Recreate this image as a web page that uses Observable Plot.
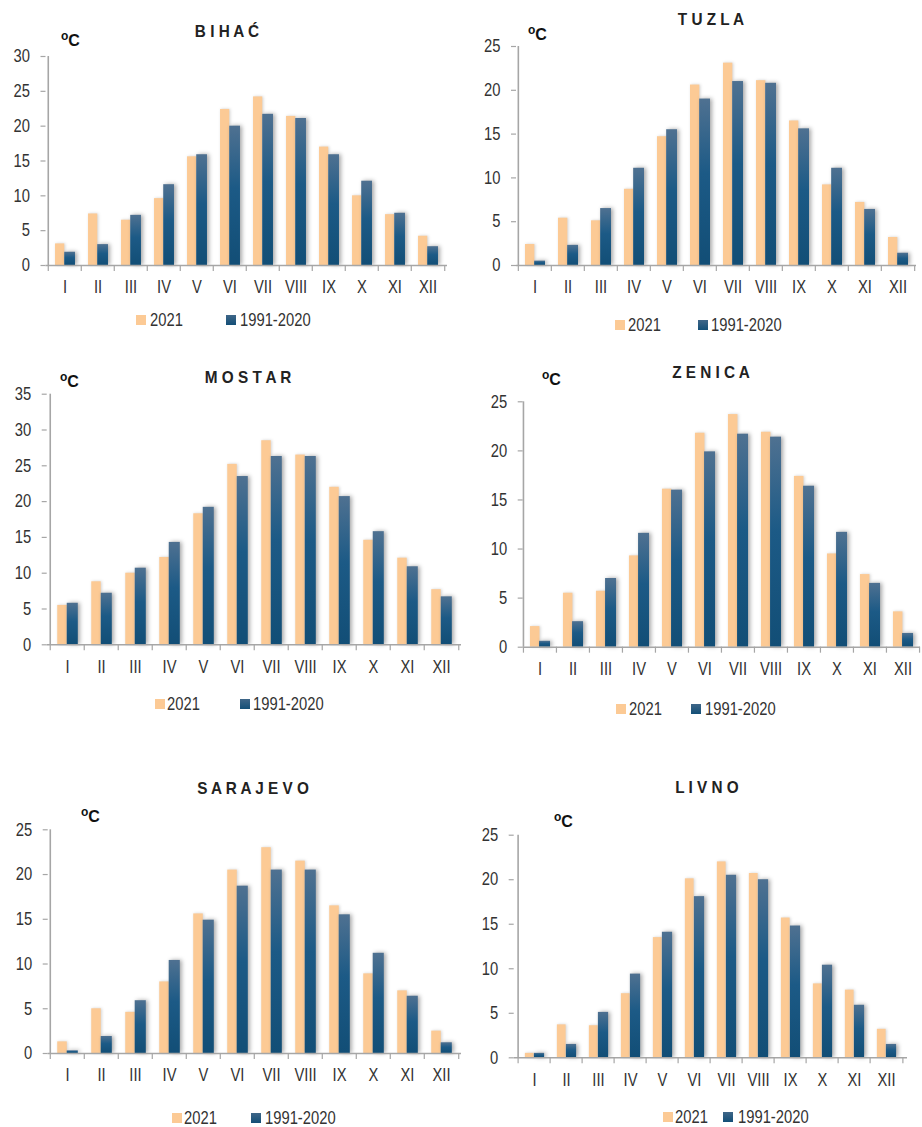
<!DOCTYPE html>
<html>
<head>
<meta charset="utf-8">
<script src="https://cdn.jsdelivr.net/npm/d3@7"></script>
<script src="https://cdn.jsdelivr.net/npm/@observablehq/plot@0.6"></script>
<style>
  html, body { margin: 0; padding: 0; background: #fff; }
  #root { position: relative; width: 922px; height: 1127px; background: #fff; overflow: hidden; }
  .lbl { position: absolute; white-space: nowrap; line-height: 1; }
  .narrow { font-family: "Liberation Sans", Arial, sans-serif; font-size: 18px; color: #333; }
  .title { font-family: "Liberation Sans", Arial, sans-serif; font-weight: bold; font-size: 17px; color: #222; }
  .unit { font-family: "Liberation Sans", Arial, sans-serif; font-weight: bold; font-size: 16px; color: #111; }
  .unit sup { font-size: 12px; position: relative; top: -3px; vertical-align: top; }
  .sw { position: absolute; width: 10px; height: 10px; }
</style>
</head>
<body>
<div id="root"></div>
<script>
// ---- data ----
const months = ["I","II","III","IV","V","VI","VII","VIII","IX","X","XI","XII"];
const seriesNames = ["2021", "1991-2020"];

const bihac2021   = [3.1, 7.4, 6.5, 9.6, 15.6, 22.4, 24.2, 21.4, 17.0, 10.0, 7.3, 4.2];
const bihacNorm   = [1.9, 3.0, 7.2, 11.6, 15.9, 20.0, 21.7, 21.1, 15.9, 12.1, 7.5, 2.7];
const tuzla2021   = [2.4, 5.4, 5.1, 8.7, 14.7, 20.6, 23.1, 21.1, 16.5, 9.2, 7.2, 3.2];
const tuzlaNorm   = [0.5, 2.3, 6.5, 11.1, 15.5, 19.0, 21.0, 20.8, 15.6, 11.1, 6.4, 1.4];
const mostar2021  = [5.5, 8.8, 10.0, 12.2, 18.3, 25.2, 28.5, 26.5, 22.0, 14.6, 12.1, 7.7];
const mostarNorm  = [5.8, 7.2, 10.7, 14.3, 19.2, 23.5, 26.3, 26.3, 20.7, 15.8, 10.9, 6.7];
const zenica2021  = [2.1, 5.5, 5.7, 9.3, 16.1, 21.8, 23.7, 21.9, 17.4, 9.5, 7.4, 3.6];
const zenicaNorm  = [0.6, 2.6, 7.0, 11.6, 16.0, 19.9, 21.7, 21.4, 16.4, 11.7, 6.5, 1.4];
const sarajevo2021 = [1.3, 5.0, 4.6, 8.0, 15.6, 20.5, 23.0, 21.5, 16.5, 8.9, 7.0, 2.5];
const sarajevoNorm = [0.3, 1.9, 5.9, 10.4, 14.9, 18.7, 20.5, 20.5, 15.5, 11.2, 6.4, 1.2];
const livno2021   = [0.5, 3.7, 3.6, 7.2, 13.5, 20.1, 22.0, 20.7, 15.7, 8.3, 7.6, 3.2];
const livnoNorm   = [0.5, 1.5, 5.1, 9.4, 14.1, 18.1, 20.5, 20.0, 14.8, 10.4, 5.9, 1.5];

const stationTitles = ["B I H A Ć", "T U Z L A", "M O S T A R", "Z E N I C A", "S A R A J E V O", "L I V N O"];
const yMaxima = [30, 25, 35, 25, 25, 25];
const yTickStep = 5;

// ---- layout (pixel placement of each panel) ----
const layouts = [
  {axisX: 45.5, xEnd: 447, yTop: 56,    yZero: 265,    title: [227, 30.5], unit: [61, 32],  legend: {y: 320,  sq1: 136, t1: 150, sq2: 226, t2: 240}},
  {axisX: 516,  xEnd: 916, yTop: 46,    yZero: 265,    title: [711, 18.5], unit: [528, 26], legend: {y: 325,  sq1: 615, t1: 628, sq2: 698, t2: 711}},
  {axisX: 46.7, xEnd: 461, yTop: 393.7, yZero: 644.3,  title: [247.5, 377], unit: [60, 373], legend: {y: 704,  sq1: 155, t1: 167, sq2: 240, t2: 253}},
  {axisX: 522.7,xEnd: 920, yTop: 401.3, yZero: 646.7,  title: [711, 371.5], unit: [542, 371], legend: {y: 709, sq1: 616, t1: 629, sq2: 691, t2: 705}},
  {axisX: 47.7, xEnd: 461, yTop: 829.3, yZero: 1053,   title: [252.5, 787.5], unit: [81, 808], legend: {y: 1118, sq1: 172, t1: 184, sq2: 251, t2: 265}},
  {axisX: 513.7,xEnd: 907, yTop: 834.7, yZero: 1057.3, title: [706.5, 786.5], unit: [554, 813], legend: {y: 1117, sq1: 663, t1: 675, sq2: 723, t2: 738}}
];

const values2021 = [bihac2021, tuzla2021, mostar2021, zenica2021, sarajevo2021, livno2021];
const valuesNorm = [bihacNorm, tuzlaNorm, mostarNorm, zenicaNorm, sarajevoNorm, livnoNorm];

const ORANGE = "#fcca95";
const GRAY = "#a6a6a6";
const TEXT = "#333";
const FONT = '"Liberation Sans", Arial, sans-serif';
const NARROW_FACTOR = 0.82;

const root = document.getElementById("root");

function addLabel(html, x, y, cls, anchor, sx) {
  const d = document.createElement("div");
  d.className = "lbl " + cls;
  d.innerHTML = html;
  d.style.left = x + "px";
  d.style.top = y + "px";
  const s = sx ? ` scaleX(${sx})` : "";
  if (anchor === "center") {
    d.style.transform = "translate(-50%, -50%)" + s;
    d.style.transformOrigin = "50% 50%";
  } else {
    d.style.transform = "translate(0, -50%)" + s;
    d.style.transformOrigin = "0 50%";
  }
  root.appendChild(d);
  return d;
}

function gradientDefs(id) {
  return () => {
    const ns = "http://www.w3.org/2000/svg";
    const defs = document.createElementNS(ns, "defs");
    const g = document.createElementNS(ns, "linearGradient");
    g.setAttribute("id", id);
    g.setAttribute("x1", "0"); g.setAttribute("y1", "0");
    g.setAttribute("x2", "0"); g.setAttribute("y2", "1");
    [["0%", "#4f7191"], ["45%", "#1c5a86"], ["100%", "#124e76"]].forEach(([o, c]) => {
      const s = document.createElementNS(ns, "stop");
      s.setAttribute("offset", o);
      s.setAttribute("stop-color", c);
      g.appendChild(s);
    });
    defs.appendChild(g);
    return defs;
  };
}

layouts.forEach((L, k) => {
  const ymax = yMaxima[k];
  const left = Math.floor(L.axisX - 50);
  const top = Math.floor(L.yTop - 12);
  const width = Math.ceil(L.xEnd + 2 - left);
  const height = Math.ceil(L.yZero + 42 - top);
  const mL = L.axisX - left, mT = L.yTop - top;
  const mR = width - (L.xEnd - left), mB = height - (L.yZero - top);
  const bw = (L.xEnd - L.axisX) / months.length;
  const rows = months.map((m, i) => ({month: m, a: values2021[k][i], b: valuesNorm[k][i]}));
  const gid = "grad" + k;

  const chart = Plot.plot({
    width, height,
    marginLeft: mL, marginTop: mT, marginRight: mR, marginBottom: mB,
    style: {fontFamily: FONT, fontSize: "18px", color: TEXT, background: "transparent", overflow: "visible"},
    x: {type: "band", domain: months, padding: 0, label: null, axis: null},
    y: {domain: [0, ymax], label: null, axis: null},
    marks: [
      gradientDefs(gid),
      Plot.barY(rows, {x: "month", y: "a", fill: ORANGE,
        insetLeft: bw * 0.21, insetRight: bw * 0.5,
        imageFilter: "drop-shadow(1px 0px 1.5px rgba(0,0,0,0.18))"}),
      Plot.barY(rows, {x: "month", y: "b", fill: `url(#${gid})`,
        insetLeft: bw * 0.485, insetRight: bw * 0.18,
        imageFilter: "drop-shadow(2.5px 0px 2px rgba(0,0,0,0.35))"}),
      Plot.ruleY([0], {stroke: GRAY, strokeWidth: 1.6}),
      Plot.ruleX([months[0]], {x: d => d, dx: -bw / 2, stroke: GRAY, strokeWidth: 1.6}),
      Plot.axisY({ticks: d3.range(0, ymax + 1, yTickStep), tickSize: 5, tickPadding: 11,
        stroke: GRAY, strokeWidth: 1.2, fill: TEXT, fontSize: 18, label: null}),
      Plot.axisX({tickSize: 0, tickPadding: 15, fill: TEXT, fontSize: 18, label: null}),
      Plot.axisX({ticks: months, tickSize: 6, dx: -bw / 2, tickFormat: () => "", stroke: GRAY, strokeWidth: 1.2, label: null}),
      Plot.axisX({ticks: [months[months.length - 1]], tickSize: 6, dx: bw / 2, tickFormat: () => "", stroke: GRAY, strokeWidth: 1.2, label: null})
    ]
  });
  Object.assign(chart.style, {position: "absolute", left: left + "px", top: top + "px", overflow: "visible"});
  root.appendChild(chart);

  // condense tick labels horizontally (narrow face look)
  chart.querySelectorAll("text").forEach(t => {
    const w = t.getComputedTextLength();
    if (w > 0) {
      t.setAttribute("textLength", (w * NARROW_FACTOR).toFixed(2));
      t.setAttribute("lengthAdjust", "spacingAndGlyphs");
    }
  });

  // title and unit
  addLabel(stationTitles[k], L.title[0], L.title[1], "title", "center", 0.9);
  addLabel("<sup>o</sup>C", L.unit[0], L.unit[1] + 9, "unit", "left");

  // legend
  const lg = L.legend;
  const s1 = document.createElement("div");
  s1.className = "sw"; s1.style.background = ORANGE;
  s1.style.left = lg.sq1 + "px"; s1.style.top = (lg.y - 5) + "px";
  root.appendChild(s1);
  const s2 = document.createElement("div");
  s2.className = "sw"; s2.style.background = "linear-gradient(#3f6688, #134f77)";
  s2.style.left = lg.sq2 + "px"; s2.style.top = (lg.y - 5) + "px";
  root.appendChild(s2);
  addLabel(seriesNames[0], lg.t1, lg.y, "narrow", "left", NARROW_FACTOR);
  addLabel(seriesNames[1], lg.t2, lg.y, "narrow", "left", NARROW_FACTOR);
});
</script>
</body>
</html>
